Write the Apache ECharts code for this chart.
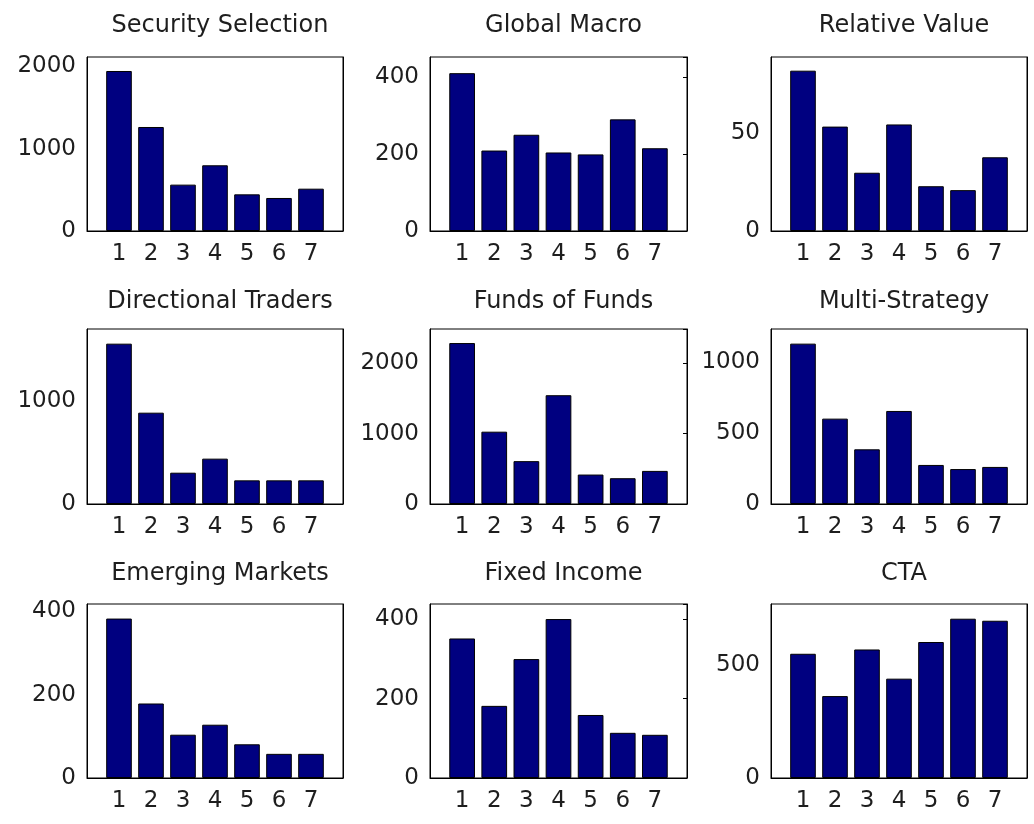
<!DOCTYPE html>
<html>
<head>
<meta charset="utf-8">
<script src="https://cdn.jsdelivr.net/npm/echarts@6/dist/echarts.min.js"></script>
<style>
html,body{margin:0;padding:0;background:#fff;}
#chart{width:1034px;height:824px;}
</style>
</head>
<body>
<div id="chart"></div>
<script>
// ---- data ----
var titles = ['Security Selection', 'Global Macro', 'Relative Value',
              'Directional Traders', 'Funds of Funds', 'Multi-Strategy',
              'Emerging Markets', 'Fixed Income', 'CTA'];
var categories = [1, 2, 3, 4, 5, 6, 7];
var securitySelection  = [1943, 1263, 563, 798, 445, 401, 514];
var globalMacro        = [410, 209, 250, 204, 199, 290, 215];
var relativeValue      = [82, 53.4, 29.8, 54.5, 22.9, 20.9, 37.7];
var directionalTraders = [1552, 884, 303, 439, 229, 229, 229];
var fundsOfFunds       = [2290, 1029, 610, 1548, 419, 367, 471];
var multiStrategy      = [1129, 601, 385, 655, 275, 246, 261];
var emergingMarkets    = [383, 179, 104, 128, 81, 58, 58];
var fixedIncome        = [352, 182, 300, 401, 159, 114, 109];
var cta                = [549, 362, 568, 439, 601, 704, 695];
var yMax  = [2113, 452, 89, 1694, 2490, 1232, 418, 439, 769];
var yStep = [1000, 200, 50, 1000, 1000, 500, 200, 200, 500];

var seriesValues = [securitySelection, globalMacro, relativeValue,
                    directionalTraders, fundsOfFunds, multiStrategy,
                    emergingMarkets, fixedIncome, cta];

// ---- layout ----
var colLeft = [87, 430, 771];
var colWidth = [256, 257, 256];
var rowTop = [57, 329, 604];
var rowHeight = [174, 175, 174];
var titleTop = [9, 285, 557];

var FONT = 'DejaVu Sans';
var TXT = '#1e1e1e';

var option = {
  backgroundColor: '#fff',
  animation: false,
  title: [], grid: [], xAxis: [], yAxis: [], series: []
};

for (var i = 0; i < 9; i++) {
  var r = Math.floor(i / 3), c = i % 3;
  var step = yStep[i];
  option.title.push({
    text: titles[i],
    left: colLeft[c] + colWidth[c] / 2,
    top: titleTop[r],
    textAlign: 'center',
    textStyle: {fontFamily: FONT, fontSize: 24, fontWeight: 'normal', color: TXT}
  });
  option.grid.push({
    left: colLeft[c], top: rowTop[r], width: colWidth[c], height: rowHeight[r],
    show: true, borderColor: '#000', borderWidth: 1, backgroundColor: '#fff'
  });
  option.xAxis.push({
    type: 'value', gridIndex: i, min: 0, max: 8, interval: 1,
    axisLine: {show: true, lineStyle: {color: '#000', width: 1}},
    axisTick: {show: false},
    splitLine: {show: false},
    axisLabel: {
      margin: 12, fontFamily: FONT, fontSize: 23, color: TXT,
      formatter: function (v) { return (v >= 1 && v <= 7) ? String(v) : ''; }
    }
  });
  option.yAxis.push({
    type: 'value', gridIndex: i, min: 0, max: yMax[i], interval: step,
    axisLine: {show: true, lineStyle: {color: '#000', width: 1}},
    axisTick: {show: false},
    splitLine: {show: false},
    axisLabel: {
      margin: 11, fontFamily: FONT, fontSize: 23, color: TXT,
      formatter: (function (s) {
        return function (v) { return (Math.abs(v % s) < 1e-9) ? String(v) : ''; };
      })(step)
    }
  });
  var yRightIndex = option.yAxis.length;
  option.yAxis.push({
    type: 'value', gridIndex: i, position: 'right', min: 0, max: yMax[i], interval: step,
    axisLine: {show: true, lineStyle: {color: '#000', width: 1}},
    axisTick: {show: c === 1, inside: true, length: 4, lineStyle: {color: '#000'}},
    splitLine: {show: false},
    axisLabel: {show: false}
  });
  var vals = seriesValues[i];
  option.series.push({
    type: 'bar',
    xAxisIndex: i,
    yAxisIndex: yRightIndex - 1,
    barWidth: colWidth[c] * 0.8 / 8,
    data: categories.map(function (cat, k) { return [cat, vals[k]]; }),
    itemStyle: {color: '#000080', borderColor: '#000', borderWidth: 1},
    silent: true
  });
}

var chart = echarts.init(document.getElementById('chart'), null, {renderer: 'canvas'});
chart.setOption(option);
</script>
</body>
</html>
